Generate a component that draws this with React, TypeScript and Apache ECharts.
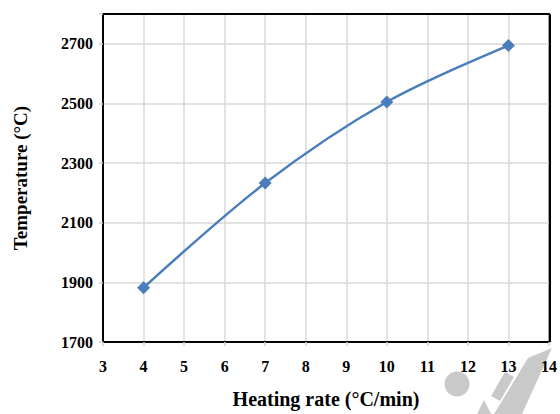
import React, { useEffect, useRef } from "react";
import * as echarts from "echarts";

const heatingRate = [4, 7, 10, 13];
const temperature = [1882, 2233, 2505, 2694];
const xTitle = "Heating rate (°C/min)";
const yTitle = "Temperature (°C)";

const W = 560;
const H = 414;
const GRID = { left: 103, right: 10, top: 14, bottom: 72 };

export default function App() {
  const ref = useRef<HTMLDivElement>(null);
  useEffect(() => {
    if (!ref.current) return;
    document.body.style.margin = "0";
    const chart = echarts.init(ref.current, undefined, { renderer: "svg" });
    const font = "'Liberation Serif', 'Times New Roman', serif";
    const gray = "#c9c9c9";
    chart.setOption({
      animation: false,
      backgroundColor: "#ffffff",
      grid: { ...GRID, show: true, borderColor: "#000000", borderWidth: 2, backgroundColor: "transparent" },
      xAxis: {
        type: "value",
        min: 3,
        max: 14,
        interval: 1,
        name: xTitle,
        nameLocation: "middle",
        nameGap: 47,
        nameTextStyle: { fontFamily: font, fontWeight: "bold", fontSize: 20, color: "#000" },
        axisLine: { show: true, onZero: false, lineStyle: { color: "#000", width: 2 } },
        axisTick: { show: true, length: 4, lineStyle: { color: "#d0d0d0", width: 1.5 } },
        axisLabel: { fontFamily: font, fontWeight: "bold", fontSize: 16, color: "#000", margin: 16 },
        splitLine: { show: true, lineStyle: { color: "#d9d9d9", width: 1.5 } },
      },
      yAxis: {
        type: "value",
        min: 1700,
        max: 2800,
        interval: 200,
        name: yTitle,
        nameLocation: "middle",
        nameGap: 73,
        nameTextStyle: { fontFamily: font, fontWeight: "bold", fontSize: 19, color: "#000" },
        axisLine: { show: true, onZero: false, lineStyle: { color: "#000", width: 2 } },
        axisTick: { show: true, length: 4, lineStyle: { color: "#d0d0d0", width: 1.5 } },
        axisLabel: {
          fontFamily: font,
          fontWeight: "bold",
          fontSize: 16,
          color: "#000",
          margin: 10,
          formatter: (v: number) => (v === 2800 ? "" : String(v)),
        },
        splitLine: { show: true, lineStyle: { color: "#d9d9d9", width: 1.5 } },
      },
      series: [
        {
          type: "line",
          data: heatingRate.map((x, i) => [x, temperature[i]]),
          smooth: 0.35,
          symbol: "diamond",
          symbolSize: 13,
          lineStyle: { color: "#4a7ebb", width: 2.5 },
          itemStyle: { color: "#4a7ebb" },
          z: 5,
        },
      ],
      graphic: [
        {
          type: "line",
          shape: { x1: GRID.left, y1: GRID.top, x2: W - GRID.right, y2: GRID.top },
          style: { stroke: "#000000", lineWidth: 2 },
          z: 100,
        },
        {
          type: "line",
          shape: { x1: W - GRID.right, y1: GRID.top, x2: W - GRID.right, y2: H - GRID.bottom },
          style: { stroke: "#000000", lineWidth: 2 },
          z: 100,
        },
        { type: "circle", shape: { cx: 457, cy: 384, r: 12.5 }, style: { fill: gray }, z: -1 },
        {
          type: "polygon",
          shape: { points: [[528, 358], [552, 348], [522, 414], [494, 414]] },
          style: { fill: gray },
          z: -1,
        },
        {
          type: "polygon",
          shape: { points: [[505, 372], [514, 377], [500, 401], [491, 396]] },
          style: { fill: gray },
          z: -1,
        },
        {
          type: "polygon",
          shape: { points: [[477, 414], [484, 400], [491, 414]] },
          style: { fill: gray },
          z: -1,
        },
      ],
    });
    return () => chart.dispose();
  }, []);
  return <div ref={ref} style={{ width: W, height: H }} />;
}
